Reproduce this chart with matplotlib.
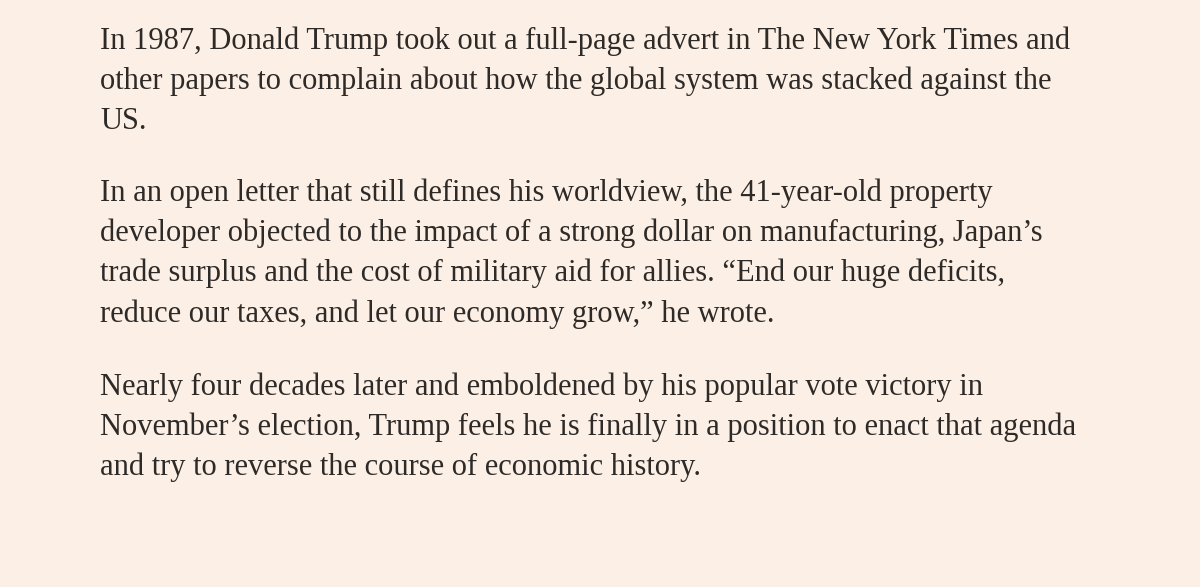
import matplotlib
matplotlib.use("Agg")
import matplotlib.pyplot as plt

lines = [
    "In 1987, Donald Trump took out a full-page advert in The New York Times and",
    "other papers to complain about how the global system was stacked against the",
    "US.",
    "In an open letter that still defines his worldview, the 41-year-old property",
    "developer objected to the impact of a strong dollar on manufacturing, Japan\u2019s",
    "trade surplus and the cost of military aid for allies. \u201cEnd our huge deficits,",
    "reduce our taxes, and let our economy grow,\u201d he wrote.",
    "Nearly four decades later and emboldened by his popular vote victory in",
    "November\u2019s election, Trump feels he is finally in a position to enact that agenda",
    "and try to reverse the course of economic history.",
]
baselines = [49, 89, 129, 201, 241, 281, 322, 395, 435, 475]

fig = plt.figure(figsize=(12, 5.87), dpi=100, facecolor="#FCF0E6")
for t, y in zip(lines, baselines):
    fig.text(100/1200, 1 - y/587, t, ha="left", va="baseline",
             fontsize=22, family="Liberation Serif", color="#2E2A28")
fig.savefig("out.png", dpi=100, facecolor=fig.get_facecolor())
